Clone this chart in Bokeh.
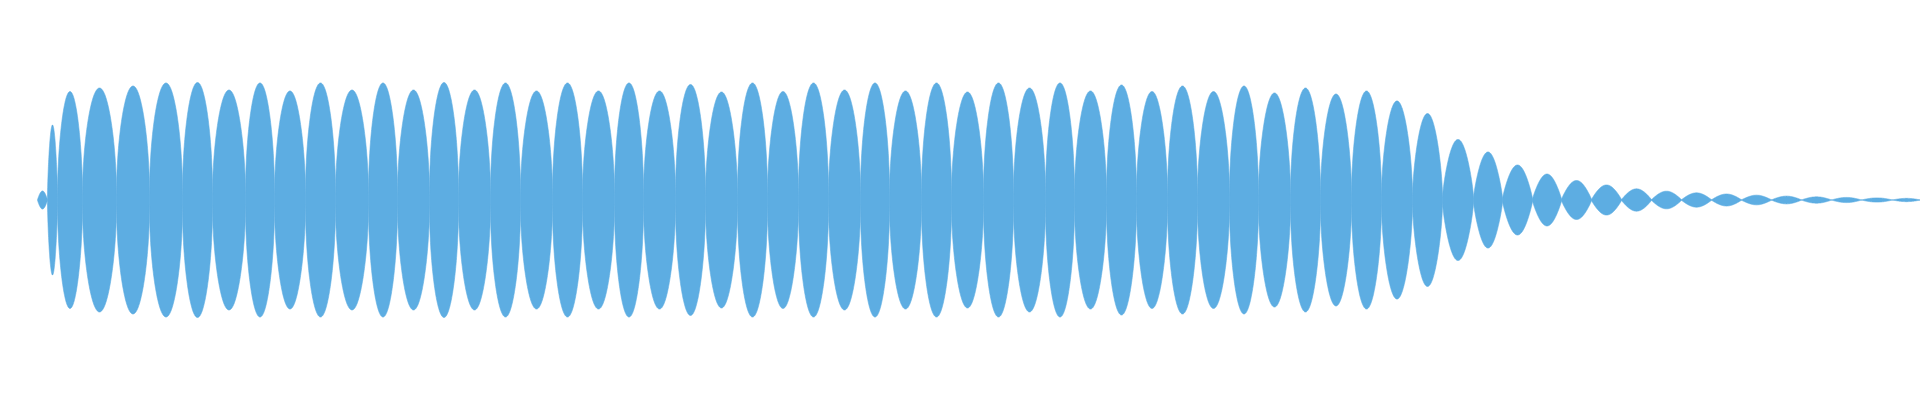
import numpy as np
from bokeh.plotting import figure
from bokeh.models import Range1d
from bokeh.embed import file_html
from bokeh.resources import INLINE

# Zero crossings (nulls) of the waveform envelope, in time units (one unit per screen column)
zero_crossings = [37, 47, 57, 82, 116, 149, 182, 212, 245, 274, 305, 335, 368, 397,
                  429, 458, 490, 520, 552, 582, 614, 643, 675, 705, 737, 767, 798,
                  828, 860, 889, 921, 951, 983, 1013, 1045, 1074, 1106, 1136, 1167,
                  1197, 1229, 1258, 1290, 1320, 1351, 1381, 1412, 1442, 1473, 1502,
                  1532, 1561, 1591, 1621, 1651, 1681, 1711, 1741, 1771, 1801, 1831,
                  1861, 1892, 1920]

# Peak amplitude of each lobe between consecutive nulls (normalised, 1.0 = max)
peak_amplitude = [0.077, 0.638, 0.923, 0.953, 0.970, 0.996, 1.000, 0.936, 0.996, 0.928,
                  0.996, 0.936, 0.996, 0.936, 1.000, 0.936, 0.996, 0.928, 0.996, 0.928,
                  0.996, 0.928, 0.983, 0.919, 0.996, 0.923, 0.996, 0.936, 0.996, 0.928,
                  0.996, 0.919, 0.996, 0.953, 0.996, 0.928, 0.979, 0.923, 0.970, 0.923,
                  0.970, 0.911, 0.953, 0.902, 0.928, 0.843, 0.736, 0.515, 0.409, 0.298,
                  0.221, 0.166, 0.128, 0.095, 0.075, 0.061, 0.051, 0.041, 0.033, 0.027,
                  0.022, 0.018, 0.014]

residual = 0.035  # fraction of a lobe's peak left at its nulls

xs_list, ys_list = [], []
t = np.linspace(0.0, 1.0, 121)
for i, pk in enumerate(peak_amplitude):
    x0, x1 = zero_crossings[i], zero_crossings[i + 1]
    xx = x0 + (x1 - x0) * t
    q = 1.0 - 0.52 * pk          # louder lobes are fuller (more elliptical)
    shape = np.clip(np.sin(np.pi * t), 0.0, 1.0) ** q
    fl = residual * pk
    env = fl + (pk - fl) * shape
    xs_list.append(np.concatenate([xx, xx[::-1]]).tolist())
    ys_list.append(np.concatenate([env, -env[::-1]]).tolist())

p = figure(width=1920, height=400, output_backend="svg", toolbar_location=None,
           x_range=Range1d(0, 1920), y_range=Range1d(-1.7064, 1.6979),
           min_border=0, min_border_left=0, min_border_right=0,
           min_border_top=0, min_border_bottom=0)
p.xaxis.visible = False
p.yaxis.visible = False
p.grid.visible = False
p.outline_line_color = None
p.background_fill_color = "white"
p.border_fill_color = "white"

p.patches(xs_list, ys_list, fill_color="#5DADE2", line_color="#5DADE2", line_width=0.6)

open("out.html", "w").write(file_html(p, INLINE))
